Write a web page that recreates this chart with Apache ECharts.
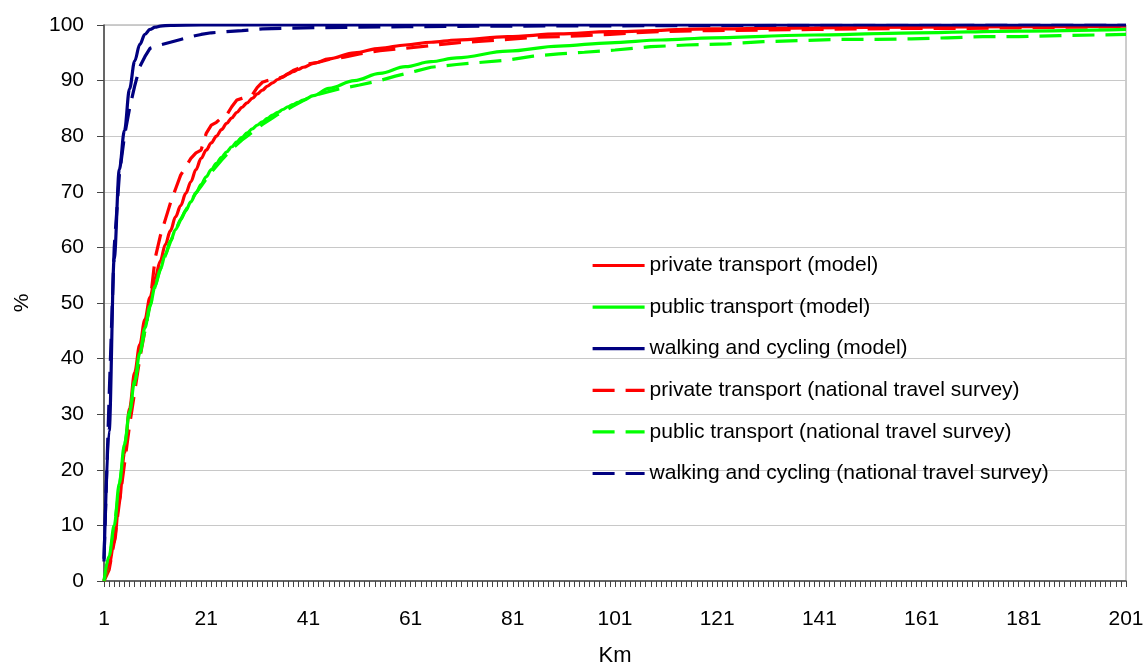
<!DOCTYPE html>
<html>
<head>
<meta charset="utf-8">
<script src="https://cdn.jsdelivr.net/npm/echarts@6/dist/echarts.min.js"></script>
<style>html,body{margin:0;padding:0;background:#fff}#c{width:1144px;height:665px}</style>
</head>
<body>
<div id="c"></div>
<script>
// x axis: km 1..201 (category labels)
const kmMin = 1, kmMax = 201;
const yTicks = [0, 10, 20, 30, 40, 50, 60, 70, 80, 90, 100];
const seriesNames = [
  'private transport (model)',
  'public transport (model)',
  'walking and cycling (model)',
  'private transport (national travel survey)',
  'public transport (national travel survey)',
  'walking and cycling (national travel survey)'
];
// [km, cumulative %]
const privateModel = [[1,0],[2,3],[3,7],[4,14.5],[5,23],[6,31],[7,37.5],[8,42.5],[9,47],[10,51],[11,54.5],[12,57.5],[13,60.5],[14,63],[15,65.5],[16,67.5],[17,69.7],[18,71.8],[19,74],[20,76],[21,77.5],[22,78.8],[23,80],[24,81.2],[25,82.3],[26,83.3],[27,84.3],[28,85.2],[29,86],[30,86.8],[31,87.6],[32,88.3],[33,89],[34,89.6],[35,90.2],[36,90.7],[37,91.2],[38,91.6],[39,92],[40,92.4],[42,93.1],[45,93.9],[50,95],[55,95.8],[60,96.4],[65,96.9],[70,97.3],[80,97.9],[90,98.4],[100,98.8],[120,99.3],[140,99.5],[160,99.6],[180,99.7],[201,99.8]];
const publicModel = [[1,0],[2,4.5],[3,10],[4,17.5],[5,24.5],[6,30.5],[7,36],[8,41],[9,45.5],[10,49.5],[11,53],[12,56],[13,58.7],[14,61.2],[15,63.2],[16,65],[17,66.6],[18,68.2],[19,69.8],[20,71.3],[21,72.7],[22,74],[23,75.1],[24,76.2],[25,77.2],[26,78.1],[27,79],[28,79.8],[29,80.6],[30,81.3],[31,82],[32,82.6],[33,83.2],[34,83.8],[35,84.3],[36,84.8],[37,85.3],[38,85.7],[39,86.1],[40,86.5],[42,87.3],[45,88.6],[50,90],[55,91.3],[60,92.5],[65,93.4],[70,94.1],[80,95.3],[90,96.2],[100,96.8],[110,97.3],[120,97.7],[140,98.2],[160,98.6],[180,98.9],[201,99.2]];
const walkingModel = [[1,3.5],[2,27],[3,58],[4,74],[5,81],[6,88.5],[7,93.5],[8,96.5],[9,98.3],[10,99.2],[11,99.6],[12,99.8],[14,99.95],[20,100],[201,100]];
const privateSurvey = [[1,0],[2,2],[3,7],[4,14],[5,21],[6,28],[7,34],[8,40],[9,45],[10,50],[11,58],[12,62],[13,65],[14,68],[15,70.5],[16,73],[17,74.5],[18,76],[19,77],[20,77.5],[21,80.5],[22,82],[23,82.5],[24,83.3],[25,83.8],[26,85.3],[27,86.5],[28,86.8],[29,87.1],[30,87.4],[31,88.8],[32,89.7],[33,90],[34,90.2],[35,90.4],[36,90.6],[37,91.2],[38,91.8],[39,92.2],[40,92.6],[41,93],[43,93.3],[45,93.8],[48,94.2],[51,94.8],[55,95.4],[60,95.8],[65,96.3],[70,96.8],[75,97.1],[80,97.4],[85,97.8],[90,97.9],[95,98.1],[100,98.3],[105,98.6],[110,98.8],[120,99],[130,99.1],[140,99.2],[150,99.3],[160,99.4],[170,99.4],[180,99.5],[190,99.6],[201,99.7]];
const publicSurvey = [[1,0],[2,3.5],[3,9.5],[4,17],[5,24],[6,30],[7,35.5],[8,40.5],[9,45],[10,49.5],[11,53],[12,56],[13,58.5],[14,61],[15,63],[16,65],[17,66.7],[18,68.3],[19,69.8],[20,71],[21,72.3],[22,73.5],[23,74.6],[24,75.7],[25,76.7],[26,77.6],[27,78.5],[28,79.3],[29,80],[30,80.7],[31,81.4],[32,82.1],[33,82.7],[34,83.3],[35,83.9],[36,84.4],[37,84.9],[38,85.4],[39,85.9],[40,86.4],[41,86.9],[42,87.3],[44,87.8],[47,88.5],[51,89.2],[55,90],[58,90.8],[62,91.7],[65,92.4],[70,92.9],[75,93.3],[80,93.7],[85,94.4],[90,94.8],[95,95.1],[101,95.5],[108,96.1],[115,96.4],[123,96.6],[130,97],[137,97.2],[145,97.4],[152,97.4],[159,97.5],[166,97.7],[173,97.9],[180,97.9],[188,98.1],[195,98.2],[201,98.3]];
const walkingSurvey = [[1,4],[2,33],[3,60],[4,73],[5,80],[6,85],[7,89],[8,92.5],[9,94.3],[10,95.8],[12,96.4],[14,96.9],[16,97.4],[18,97.9],[20,98.3],[22,98.6],[25,98.8],[28,99],[32,99.3],[40,99.5],[60,99.7],[80,99.8],[120,99.9],[201,100]];

const categories = [];
for (let k = kmMin; k <= kmMax; k++) categories.push(String(k));

const colors = ['#FF0000', '#00FF00', '#000080', '#FF0000', '#00FF00', '#000080'];
const datasets = [privateModel, publicModel, walkingModel, privateSurvey, publicSurvey, walkingSurvey];
const FONT = 'Liberation Sans, Arial, sans-serif';

const series = datasets.map((d, i) => {
  const dashed = i >= 3;
  return {
    name: seriesNames[i],
    type: 'line',
    data: d.map(p => [String(p[0]), p[1]]),
    symbol: 'none',
    showSymbol: false,
    smooth: dashed ? false : 0.35,
    smoothMonotone: 'x',
    z: dashed ? 2 : 3,
    lineStyle: { color: colors[i], width: 3.2, type: dashed ? [22, 11] : 'solid', cap: 'butt' },
    itemStyle: { color: colors[i] },
    emphasis: { disabled: true },
    animation: false
  };
});

const chart = echarts.init(document.getElementById('c'), null, { renderer: 'canvas' });
chart.setOption({
  animation: false,
  backgroundColor: '#fff',
  grid: { left: 104, right: 18, top: 25, bottom: 84, outerBoundsMode: 'none', containLabel: false, show: true, borderColor: '#9a9a9a', borderWidth: 1, backgroundColor: 'transparent' },
  legend: {
    orient: 'vertical',
    left: 586, top: 250,
    itemWidth: 52, itemHeight: 18, itemGap: 20.6, itemTextGap: 6,
    itemStyle: { opacity: 0 },
    lineStyle: { width: 3.2 },
    textStyle: { fontSize: 21, fontFamily: FONT, color: '#000' },
    data: seriesNames
  },
  xAxis: {
    type: 'category',
    data: categories,
    boundaryGap: false,
    name: 'Km', nameLocation: 'middle', nameGap: 64,
    nameTextStyle: { fontSize: 22, fontFamily: FONT, color: '#000' },
    axisLine: { lineStyle: { color: '#444', width: 1.5 } },
    axisTick: { show: true, interval: 0, length: 6, lineStyle: { color: '#444' } },
    axisLabel: { interval: 19, margin: 28, fontSize: 21, fontFamily: FONT, color: '#000' },
    splitLine: { show: false }
  },
  yAxis: {
    type: 'value',
    min: yTicks[0], max: yTicks[yTicks.length - 1], interval: 10,
    name: '%', nameLocation: 'middle', nameGap: 71,
    nameTextStyle: { fontSize: 21, fontFamily: FONT, color: '#000' },
    axisLine: { show: true, lineStyle: { color: '#444', width: 1.5 } },
    axisTick: { show: true, length: 7, lineStyle: { color: '#444' } },
    axisLabel: { margin: 20, fontSize: 21, fontFamily: FONT, color: '#000' },
    splitLine: { show: true, lineStyle: { color: '#c8c8c8', width: 1 } }
  },
  series: series
});
</script>
</body>
</html>
